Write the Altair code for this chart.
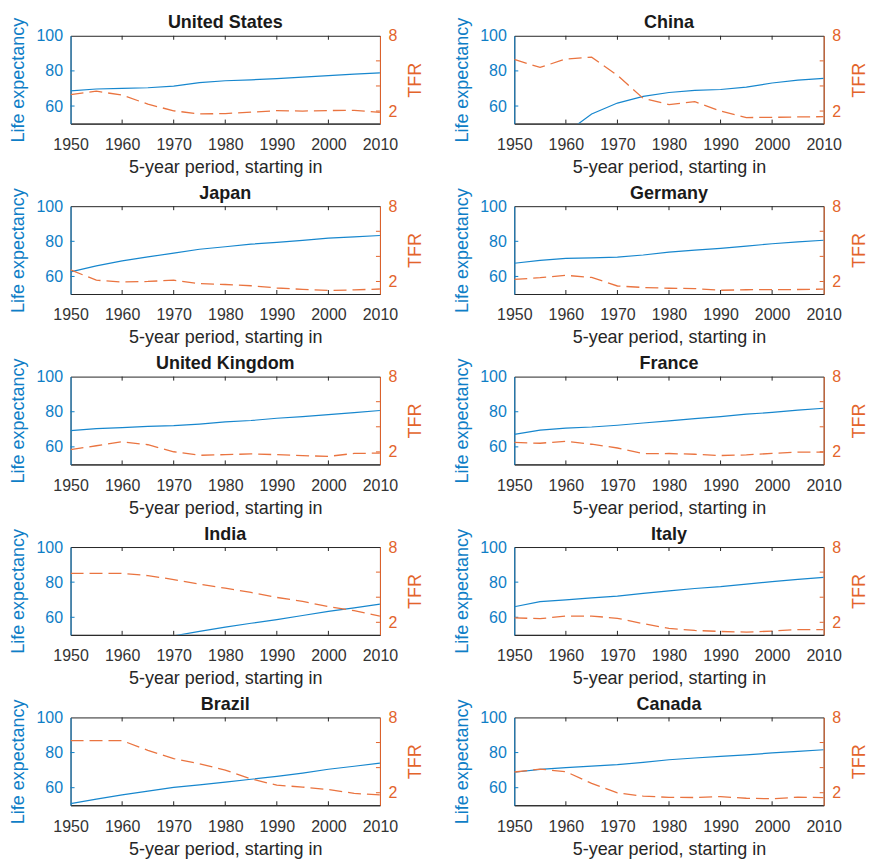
import altair as alt
import pandas as pd

# ---------------- data ----------------
YEARS = [1950, 1955, 1960, 1965, 1970, 1975, 1980, 1985, 1990, 1995, 2000, 2005, 2010]
COUNTRIES = ["United States", "China", "Japan", "Germany", "United Kingdom",
             "France", "India", "Italy", "Brazil", "Canada"]

LE_US = [68.6, 69.7, 70.1, 70.4, 71.3, 73.3, 74.4, 74.9, 75.6, 76.5, 77.3, 78.2, 78.9]
LE_CN = [43.8, 44.5, 44.6, 55.5, 61.7, 65.5, 67.7, 68.9, 69.4, 70.8, 73.1, 74.7, 75.7]
LE_JP = [62.6, 66.0, 68.9, 71.1, 73.3, 75.5, 76.9, 78.4, 79.4, 80.5, 81.8, 82.5, 83.3]
LE_DE = [67.5, 69.1, 70.3, 70.6, 71.0, 72.2, 73.8, 75.0, 76.0, 77.3, 78.6, 79.7, 80.6]
LE_UK = [69.3, 70.4, 70.9, 71.7, 72.1, 73.0, 74.2, 75.0, 76.3, 77.2, 78.4, 79.5, 80.7]
LE_FR = [67.1, 69.5, 70.7, 71.3, 72.3, 73.6, 74.8, 76.1, 77.2, 78.6, 79.6, 80.9, 82.0]
LE_IN = [35.4, 38.7, 41.4, 45.1, 49.4, 52.0, 54.4, 56.6, 58.7, 61.0, 63.4, 65.4, 67.5]
LE_IT = [66.0, 68.9, 69.9, 71.0, 72.0, 73.6, 75.0, 76.4, 77.4, 78.9, 80.3, 81.6, 82.7]
LE_BR = [50.9, 53.5, 55.9, 58.0, 60.2, 61.6, 63.2, 64.8, 66.4, 68.3, 70.5, 72.2, 74.0]
LE_CA = [68.8, 70.4, 71.4, 72.3, 73.1, 74.4, 75.9, 76.9, 77.8, 78.7, 79.8, 80.7, 81.6]

TFR_US = [3.31, 3.58, 3.27, 2.55, 2.02, 1.77, 1.80, 1.91, 2.03, 2.00, 2.04, 2.06, 1.89]
TFR_CN = [6.11, 5.48, 6.15, 6.30, 4.85, 3.01, 2.52, 2.75, 2.00, 1.48, 1.50, 1.53, 1.55]
TFR_JP = [2.92, 2.10, 1.96, 2.00, 2.10, 1.83, 1.76, 1.66, 1.48, 1.37, 1.29, 1.33, 1.40]
TFR_DE = [2.16, 2.30, 2.49, 2.32, 1.64, 1.52, 1.46, 1.43, 1.30, 1.34, 1.35, 1.36, 1.39]
TFR_UK = [2.18, 2.49, 2.81, 2.57, 2.01, 1.73, 1.78, 1.84, 1.78, 1.70, 1.64, 1.88, 1.90]
TFR_FR = [2.75, 2.69, 2.85, 2.61, 2.31, 1.86, 1.87, 1.81, 1.71, 1.76, 1.88, 1.98, 1.98]
TFR_IN = [5.90, 5.90, 5.90, 5.72, 5.41, 5.04, 4.72, 4.38, 3.98, 3.67, 3.25, 2.93, 2.50]
TFR_IT = [2.36, 2.29, 2.50, 2.50, 2.32, 1.89, 1.52, 1.35, 1.27, 1.22, 1.30, 1.42, 1.42]
TFR_BR = [6.15, 6.15, 6.15, 5.38, 4.72, 4.31, 3.80, 3.10, 2.60, 2.45, 2.25, 1.95, 1.82]
TFR_CA = [3.65, 3.88, 3.68, 2.75, 1.98, 1.73, 1.63, 1.62, 1.69, 1.56, 1.52, 1.64, 1.61]

LE = dict(zip(COUNTRIES, [LE_US, LE_CN, LE_JP, LE_DE, LE_UK, LE_FR, LE_IN, LE_IT, LE_BR, LE_CA]))
TFR = dict(zip(COUNTRIES, [TFR_US, TFR_CN, TFR_JP, TFR_DE, TFR_UK, TFR_FR, TFR_IN, TFR_IT, TFR_BR, TFR_CA]))

X_TICKS = [1950, 1960, 1970, 1980, 1990, 2000, 2010]
LE_TICKS = [60, 80, 100]
TFR_TICKS = [2, 4, 6, 8]
X_DOMAIN = [1950, 2010]
LE_DOMAIN = [50, 100]
TFR_DOMAIN = [1, 8]

# ---------------- style ----------------
W, H = 310, 88
FONT = "Liberation Sans"
BLUE = "#0F7EC6"
ORANGE = "#E3642B"
BLUE_LINE = "#1787CE"
ORANGE_LINE = "#EA7440"
DARK = "#262626"
LABEL = "#333333"


def panel(name):
    df = pd.DataFrame({"year": YEARS, "le": LE[name], "tfr": TFR[name]})
    xs = alt.Scale(domain=X_DOMAIN, nice=False, zero=False)
    ys_le = alt.Scale(domain=LE_DOMAIN, nice=False, zero=False)
    ys_tfr = alt.Scale(domain=TFR_DOMAIN, nice=False, zero=False)

    x_axis = alt.Axis(values=X_TICKS, format="d", title="5-year period, starting in",
                      ticks=False, tickSize=0, labelPadding=13, titlePadding=6,
                      grid=False, domainColor=DARK, labelColor=LABEL, titleColor=DARK,
                      labelFontSize=16, titleFontSize=18, titleFontWeight="normal",
                      labelFont=FONT, titleFont=FONT, labelFlush=False, labelOverlap=False)
    le_axis = alt.Axis(orient="left", values=LE_TICKS, title="Life expectancy",
                       ticks=False, tickSize=0, labelPadding=8, titlePadding=8.5,
                       grid=False, domainColor=BLUE, labelColor=BLUE, titleColor=BLUE,
                       labelFontSize=16, titleFontSize=18, titleFontWeight="normal",
                       labelFont=FONT, titleFont=FONT, labelFlush=False, labelOverlap=False)
    tfr_axis = alt.Axis(orient="right", values=TFR_TICKS, title="TFR",
                        ticks=False, tickSize=0, labelPadding=8, titlePadding=9.5,
                        titleAngle=270, titleBaseline="top",
                        grid=False, domainColor=ORANGE, labelColor=ORANGE, titleColor=ORANGE,
                        labelFontSize=16, titleFontSize=18, titleFontWeight="normal",
                        labelFont=FONT, titleFont=FONT, labelFlush=False, labelOverlap=False)

    le_line = alt.Chart(df).mark_line(color=BLUE_LINE, strokeWidth=1.2, clip=True).encode(
        x=alt.X("year:Q", scale=xs, axis=x_axis),
        y=alt.Y("le:Q", scale=ys_le, axis=le_axis),
    )
    le_ticks = alt.Chart(pd.DataFrame({"le": LE_TICKS[:-1]})).mark_rule(
        color=BLUE, strokeWidth=1).encode(
        y=alt.Y("le:Q", scale=ys_le), x=alt.value(0), x2=alt.value(4))

    tfr_line = alt.Chart(df).mark_line(color=ORANGE_LINE, strokeWidth=1.3, strokeDash=[13, 6],
                                       clip=True).encode(
        x=alt.X("year:Q", scale=xs),
        y=alt.Y("tfr:Q", scale=ys_tfr, axis=tfr_axis),
    )
    tfr_ticks = alt.Chart(pd.DataFrame({"tfr": TFR_TICKS[:-1]})).mark_rule(
        color=ORANGE, strokeWidth=1).encode(
        y=alt.Y("tfr:Q", scale=ys_tfr), x=alt.value(W - 4), x2=alt.value(W))

    xt_df = pd.DataFrame({"year": X_TICKS[1:-1]})
    xt_bottom = alt.Chart(xt_df).mark_rule(color=DARK, strokeWidth=1).encode(
        x=alt.X("year:Q", scale=xs), y=alt.value(H - 4), y2=alt.value(H))
    xt_top = alt.Chart(xt_df).mark_rule(color=DARK, strokeWidth=1).encode(
        x=alt.X("year:Q", scale=xs), y=alt.value(0), y2=alt.value(4))

    title = alt.Chart(pd.DataFrame({"name": [name]})).mark_text(
        font=FONT, fontSize=18, fontWeight="bold", color="#1a1a1a",
        align="center", baseline="alphabetic").encode(
        text="name:N", x=alt.value(W / 2), y=alt.value(-7.5))

    left = alt.layer(le_line, le_ticks)
    right = alt.layer(tfr_line, tfr_ticks)
    xt = alt.layer(xt_bottom, xt_top, title)
    return alt.layer(left, right, xt).resolve_scale(y="independent").properties(
        width=W, height=H)


chart = alt.concat(*[panel(c) for c in COUNTRIES], columns=2,
                   spacing={"row": 82.75, "column": 134.6}, bounds="flush").properties(
    padding={"left": 8.7, "top": 13, "right": 0, "bottom": 0},
    background="white",
).configure_view(stroke=DARK, strokeWidth=1)

chart.save("out.html", embed_options={"renderer": "svg", "actions": False})
